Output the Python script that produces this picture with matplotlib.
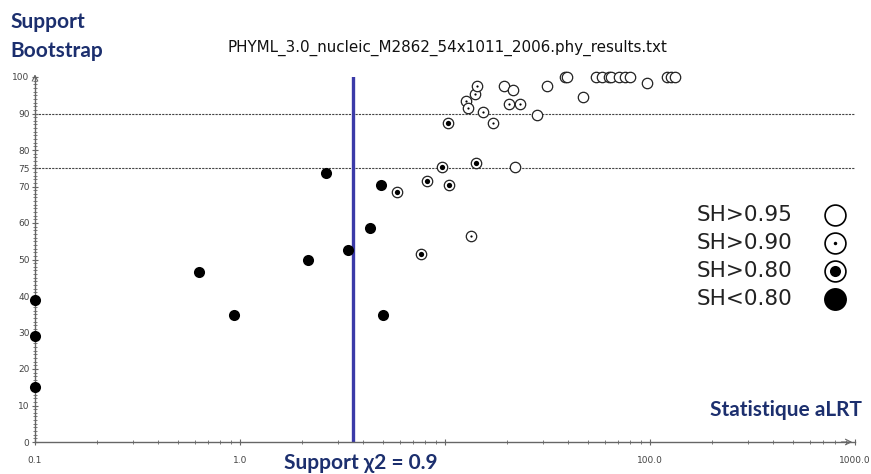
import matplotlib
matplotlib.use('Agg')
import matplotlib.pyplot as plt
from matplotlib.ticker import FixedLocator, NullFormatter, LogLocator, FixedFormatter

# ---- data ----
sh95_x = [19.5, 21.5, 21.9, 28.1, 31.3, 38.5, 39.5, 47.1, 54.3, 58.1, 63.0, 64.5, 70.8, 75.5, 79.9, 97.0, 120.6, 126.0, 132.0]
sh95_y = [97.5, 96.4, 75.4, 89.6, 97.5, 100, 100, 94.6, 100, 100, 100, 100, 100, 100, 100, 98.4, 100, 100, 100]

sh90_x = [12.7, 12.95, 13.4, 14.0, 14.4, 15.4, 17.2, 20.5, 23.3]
sh90_y = [93.5, 91.4, 56.5, 95.3, 97.5, 90.4, 87.5, 92.5, 92.5]

sh80_x = [5.83, 7.64, 8.14, 9.70, 10.4, 10.5, 14.2]
sh80_y = [68.6, 51.6, 71.6, 75.4, 87.5, 70.4, 76.4]

low_x = [0.1, 0.1, 0.1, 0.633, 0.938, 2.15, 2.62, 3.35, 4.32, 4.87, 4.99]
low_y = [39, 29, 15, 46.6, 34.8, 49.8, 73.6, 52.7, 58.6, 70.5, 34.9]

chi2_x = 3.56
hlines_y = [90, 75]
legend_labels = ['SH>0.95', 'SH>0.90', 'SH>0.80', 'SH<0.80']
yticks = [0, 10, 20, 30, 40, 50, 60, 70, 75, 80, 90, 100]
xticks = [0.1, 1.0, 10.0, 100.0, 1000.0]
xticklabels = ['0.1', '1.0', '', '100.0', '1000.0']
title = 'PHYML_3.0_nucleic_M2862_54x1011_2006.phy_results.txt'

navy = '#1c2f6e'
blue = '#3b3aa8'
axc = '#666666'

fig = plt.figure(figsize=(8.71, 4.74), dpi=100)
ax = fig.add_axes([35/871, (474-442)/474, 820/871, 365/474])
ax.set_xscale('log')
ax.set_xlim(0.1, 1000)
ax.set_ylim(0, 100)

for s in ['top', 'right']:
    ax.spines[s].set_visible(False)
for s in ['left', 'bottom']:
    ax.spines[s].set_color(axc)
    ax.spines[s].set_linewidth(1.0)

ax.yaxis.set_major_locator(FixedLocator(yticks))
ax.yaxis.set_minor_locator(FixedLocator(list(range(0, 101))))
ax.xaxis.set_major_locator(FixedLocator(xticks))
ax.xaxis.set_major_formatter(FixedFormatter(xticklabels))
ax.xaxis.set_minor_locator(LogLocator(base=10, subs=range(2, 10)))
ax.xaxis.set_minor_formatter(NullFormatter())
ax.tick_params(axis='both', which='major', labelsize=6.5, colors=axc, labelcolor='#444444', length=4, width=0.8, direction='inout')
ax.tick_params(axis='both', which='minor', colors=axc, length=2.5, width=0.6, direction='inout')
ax.tick_params(axis='x', which='major', pad=8)
ax.tick_params(axis='y', which='major', pad=2)

# arrows at axis ends
ax.annotate('', xy=(0, 1.015), xytext=(0, 0.99), xycoords='axes fraction',
            arrowprops=dict(arrowstyle='->', color=axc, lw=0.8))
ax.annotate('', xy=(1.0, 0), xytext=(0.98, 0), xycoords='axes fraction',
            arrowprops=dict(arrowstyle='->', color=axc, lw=0.8))

for hy in hlines_y:
    ax.axhline(hy, color='#444444', lw=0.8, linestyle=(0, (2, 1)), zorder=1)

ax.axvline(chi2_x, color=blue, lw=2.4, zorder=2)

ms = 7.5
ec = '#222222'
# SH>0.95 open
ax.plot(sh95_x, sh95_y, 'o', ms=ms, mfc='white', mec=ec, mew=0.9, clip_on=False, zorder=3)
# SH>0.90 dotted
ax.plot(sh90_x, sh90_y, 'o', ms=ms, mfc='white', mec=ec, mew=0.9, clip_on=False, zorder=3)
ax.plot(sh90_x, sh90_y, 'o', ms=1.6, mfc='black', mec='black', mew=0, clip_on=False, zorder=4)
# SH>0.80 double
ax.plot(sh80_x, sh80_y, 'o', ms=ms, mfc='white', mec=ec, mew=0.9, clip_on=False, zorder=3)
ax.plot(sh80_x, sh80_y, 'o', ms=3.8, mfc='black', mec='black', mew=0, clip_on=False, zorder=4)
# SH<0.80 filled
ax.plot(low_x, low_y, 'o', ms=8, mfc='black', mec='black', mew=0, clip_on=False, zorder=3)

# legend (manual)
leg_y = [215, 243, 271, 299]
for lab, py in zip(legend_labels, leg_y):
    fig.text(697/871, 1 - py/474, lab, fontsize=15.5, color='#222222', ha='left', va='center')
mx = 835/871
lms = 15
fig.add_artist(plt.Line2D([mx], [1 - leg_y[0]/474], marker='o', ms=lms, mfc='white', mec='black', mew=1.2, transform=fig.transFigure))
fig.add_artist(plt.Line2D([mx], [1 - leg_y[1]/474], marker='o', ms=lms, mfc='white', mec='black', mew=1.2, transform=fig.transFigure))
fig.add_artist(plt.Line2D([mx], [1 - leg_y[1]/474], marker='o', ms=2.5, mfc='black', mec='black', mew=0, transform=fig.transFigure))
fig.add_artist(plt.Line2D([mx], [1 - leg_y[2]/474], marker='o', ms=lms, mfc='white', mec='black', mew=1.2, transform=fig.transFigure))
fig.add_artist(plt.Line2D([mx], [1 - leg_y[2]/474], marker='o', ms=8, mfc='black', mec='black', mew=0, transform=fig.transFigure))
fig.add_artist(plt.Line2D([mx], [1 - leg_y[3]/474], marker='o', ms=16.5, mfc='black', mec='black', mew=0, transform=fig.transFigure))

# texts
fig.text(447/871, 1 - 48/474, title, fontsize=10.9, color='#111111', ha='center', va='center')
fig.text(10/871, 1 - 22/474, 'Support', fontsize=15, fontweight='bold', color=navy, family='Lato', ha='left', va='center')
fig.text(10/871, 1 - 51/474, 'Bootstrap', fontsize=15, fontweight='bold', color=navy, family='Lato', ha='left', va='center')
fig.text(862/871, 1 - 410/474, 'Statistique aLRT', fontsize=15, fontweight='bold', color=navy, family='Lato', ha='right', va='center')
fig.text(361/871, 1 - 463/474, 'Support χ2 = 0.9', fontsize=15, fontweight='bold', color=navy, family=['Lato', 'DejaVu Sans'], ha='center', va='center')

fig.savefig('out.png', dpi=100)
